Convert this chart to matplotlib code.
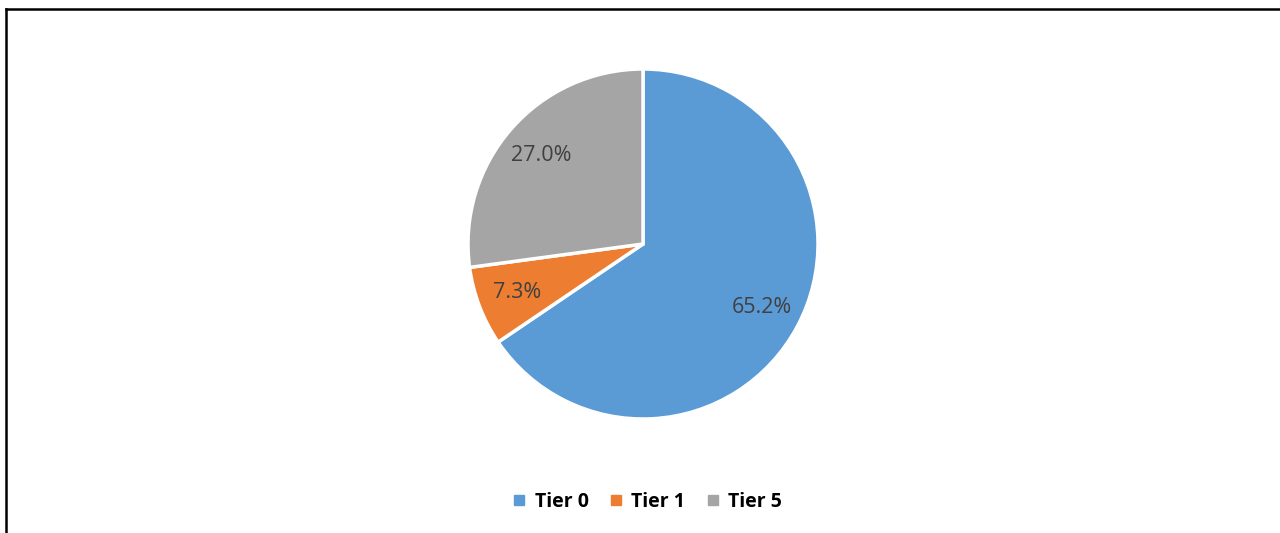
import matplotlib.pyplot as plt
from matplotlib.lines import Line2D

tiers = ['Tier 0', 'Tier 1', 'Tier 5']
shares = [65.2, 7.3, 27.0]
colors = ['#5B9BD5', '#ED7D31', '#A5A5A5']

plt.rcParams['font.family'] = ['Open Sans', 'DejaVu Sans']

fig = plt.figure(figsize=(12.8, 5.33), dpi=100)

# square box in pixels: 350 x 350, centred on the pie
ax = fig.add_axes([468 / 1280, (533 - 419) / 533, 350 / 1280, 350 / 533])

labels = ['%.1f%%' % s for s in shares]
ax.pie(shares, colors=colors, labels=labels, labeldistance=0.77,
       startangle=90, counterclock=False,
       wedgeprops={'edgecolor': 'white', 'linewidth': 2.5},
       textprops={'color': '#404040', 'fontsize': 15.5, 'ha': 'center', 'va': 'center'})
ax.set_xlim(-1.0, 1.0)
ax.set_ylim(-1.0, 1.0)
ax.set_aspect('equal')

handles = [Line2D([0], [0], marker='s', linestyle='none', markersize=7,
                  markerfacecolor=c, markeredgecolor=c) for c in colors]
fig.legend(handles, tiers, loc='center', bbox_to_anchor=(0.506, 1 - 502 / 533),
           ncol=3, frameon=False, handlelength=0.6, handletextpad=0.5,
           columnspacing=1.1, prop={'weight': 'bold', 'size': 14})

# chart border (top and left edges visible)
fig.add_artist(Line2D([6 / 1280, 6 / 1280], [0, 1 - 9 / 533], color='black', lw=1.8,
                      transform=fig.transFigure))
fig.add_artist(Line2D([6 / 1280, 1], [1 - 9 / 533, 1 - 9 / 533], color='black', lw=1.8,
                      transform=fig.transFigure))

fig.savefig('out.png', dpi=100)
